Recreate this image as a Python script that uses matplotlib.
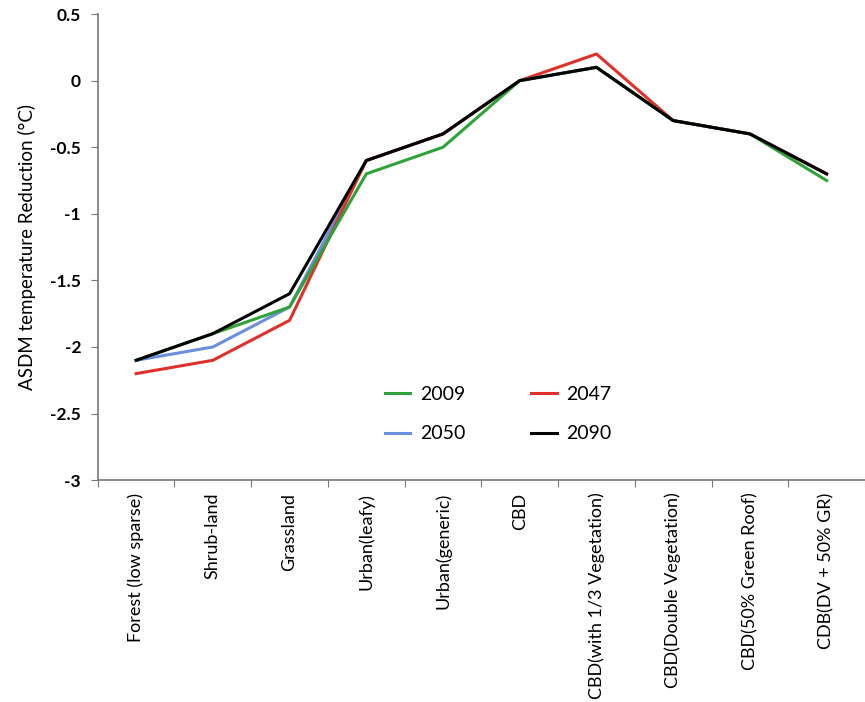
import matplotlib
matplotlib.use("Agg")
import matplotlib.pyplot as plt

plt.rcParams['font.family'] = ['Lato', 'DejaVu Sans']

categories = ['Forest (low sparse)', 'Shrub-land', 'Grassland', 'Urban(leafy)',
              'Urban(generic)', 'CBD', 'CBD(with 1/3 Vegetation)',
              'CBD(Double Vegetation)', 'CBD(50% Green Roof)', 'CDB(DV + 50% GR)']
y2009 = [-2.1, -1.9, -1.7, -0.7, -0.5, 0.0, 0.1, -0.3, -0.4, -0.75]
y2047 = [-2.2, -2.1, -1.8, -0.6, -0.4, 0.0, 0.2, -0.3, -0.4, -0.7]
y2050 = [-2.1, -2.0, -1.7, -0.6, -0.4, 0.0, 0.1, -0.3, -0.4, -0.7]
y2090 = [-2.1, -1.9, -1.6, -0.6, -0.4, 0.0, 0.1, -0.3, -0.4, -0.7]
yticks = [0.5, 0, -0.5, -1, -1.5, -2, -2.5, -3]

fig = plt.figure(figsize=(8.65, 7.02), dpi=100)
ax = fig.add_axes([0.113, 0.316, 0.887, 0.664])

x = range(len(categories))
l_blue, = ax.plot(x, y2050, color='#6a8fe0', lw=2.2, zorder=2, label='2050')
l_green, = ax.plot(x, y2009, color='#2fa23a', lw=2.2, zorder=3, label='2009')
l_red, = ax.plot(x, y2047, color='#e0302a', lw=2.2, zorder=2.5, label='2047')
l_black, = ax.plot(x, y2090, color='black', lw=2.2, zorder=4, label='2090')

ax.set_xlim(-0.5, len(categories) - 0.5)
ax.set_ylim(-3, 0.5)
ax.set_yticks(yticks)
ax.set_yticklabels([f'{v:g}' for v in yticks], fontweight='bold', fontsize=12.5)

# ticks sit between categories, labels at centres
ax.set_xticks([i - 0.5 for i in range(len(categories) + 1)])
ax.set_xticklabels([])
ax.set_xticks(list(x), minor=True)
ax.set_xticklabels(categories, minor=True, rotation=90, fontsize=13, va='top')
ax.tick_params(axis='x', which='minor', length=0, pad=9)
ax.tick_params(axis='x', which='major', length=5, color='#777777', direction='out')
ax.tick_params(axis='y', length=5, color='#777777', direction='out', pad=7)

for s in ['top', 'right']:
    ax.spines[s].set_visible(False)
for s in ['left', 'bottom']:
    ax.spines[s].set_color('#777777')
    ax.spines[s].set_linewidth(1.2)

ax.set_ylabel('ASDM temperature Reduction (\u00b0C)', fontsize=13.5, labelpad=10)

ax.legend(handles=[l_green, l_blue, l_red, l_black], ncol=2, loc='center',
          bbox_to_anchor=(0.522, 0.1415), frameon=False, fontsize=14,
          handlelength=1.3, handletextpad=0.5, columnspacing=3.4, labelspacing=1.15)

fig.savefig('out.png', dpi=100)
